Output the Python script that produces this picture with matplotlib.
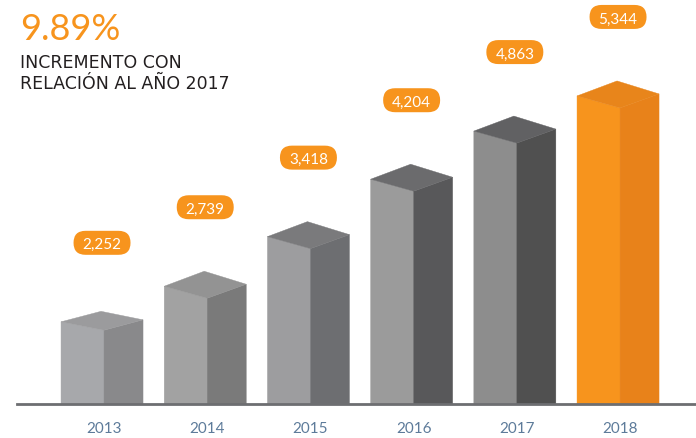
import numpy as np
import matplotlib.pyplot as plt
import matplotlib.transforms as mtransforms
from matplotlib.patches import Polygon, FancyBboxPatch

# data
years = ['2013', '2014', '2015', '2016', '2017', '2018']
values = [2252, 2739, 3418, 4204, 4863, 5344]
value_labels = ['2,252', '2,739', '3,418', '4,204', '4,863', '5,344']

front_colors = ['#a7a8ab', '#a2a2a2', '#9d9d9f', '#9b9b9b', '#8d8d8d', '#f7941d']
side_colors = ['#89898b', '#7a7a7a', '#6d6e71', '#58585a', '#505050', '#e8821a']
top_colors = ['#9b9b9d', '#939393', '#7a7a7c', '#6b6b6d', '#616163', '#e8851b']
orange = '#f7941d'

W, H = 696, 439
fig = plt.figure(figsize=(W / 100, H / 100), dpi=100)
ax = fig.add_axes([0, 34 / H, 1, 1 - 34 / H])
ax.set_xlim(-1.008, 5.736)
ax.set_ylim(1127, 6671)

# data units per pixel, used for the fake 3D depth
x0, x1 = ax.get_xlim()
y0, y1 = ax.get_ylim()
ux = (x1 - x0) / W
uy = (y1 - y0) / (H - 34)

for i, v in enumerate(values):
    # short bars show a flatter top
    k = 0.7 if i == 0 else 1.0
    xl, xr = i - 43 * ux, i + 39 * ux
    front = [(xl, y0), (xl, v), (i, v - 12 * k * uy), (i, y0)]
    side = [(i, y0), (i, v - 12 * k * uy), (xr, v + 2 * uy), (xr, y0)]
    top = [(xl, v), (i, v - 12 * k * uy), (xr, v + 2 * uy), (i - 3 * ux, v + 15 * k * uy)]
    ax.add_patch(Polygon(front, closed=True, fc=front_colors[i], ec=front_colors[i], lw=0.3))
    ax.add_patch(Polygon(side, closed=True, fc=side_colors[i], ec=side_colors[i], lw=0.3))
    ax.add_patch(Polygon(top, closed=True, fc=top_colors[i], ec=top_colors[i], lw=0.3))

    # orange pill with the value
    px, py = i - 2 * ux, v + 79 * uy
    trans = fig.dpi_scale_trans + mtransforms.ScaledTranslation(px, py, ax.transData)
    pill = FancyBboxPatch((-0.285, -0.12), 0.57, 0.24,
                          boxstyle='round,pad=0,rounding_size=0.12',
                          fc=orange, ec='none', transform=trans, clip_on=False)
    ax.add_patch(pill)
    ax.text(px, py, value_labels[i], ha='center', va='center_baseline',
            color='white', fontsize=11, family='Lato')

for s in ['top', 'right', 'left']:
    ax.spines[s].set_visible(False)
ax.spines['bottom'].set_color('#6d6e71')
ax.spines['bottom'].set_linewidth(2)
ax.spines['bottom'].set_bounds(x0 + 17 * ux, x1)
ax.spines['bottom'].set_zorder(5)

ax.set_xticks(range(len(years)), years)
ax.set_yticks([])
ax.tick_params(axis='x', length=0, pad=12, labelsize=11, labelcolor='#5d7b9a')
for t in ax.get_xticklabels():
    t.set_family('Lato')

fig.text(20 / W, 1 - 40 / H, '9.89%', color=orange, fontsize=26, family='Lato',
         va='baseline')
fig.text(20 / W, 1 - 68 / H, 'INCREMENTO CON', color='#231f20', fontsize=12.5,
         family='DejaVu Sans', va='baseline')
fig.text(20 / W, 1 - 89 / H, 'RELACIÓN AL AÑO 2017', color='#231f20', fontsize=12.5,
         family='DejaVu Sans', va='baseline')

fig.savefig('out.png', dpi=100)
